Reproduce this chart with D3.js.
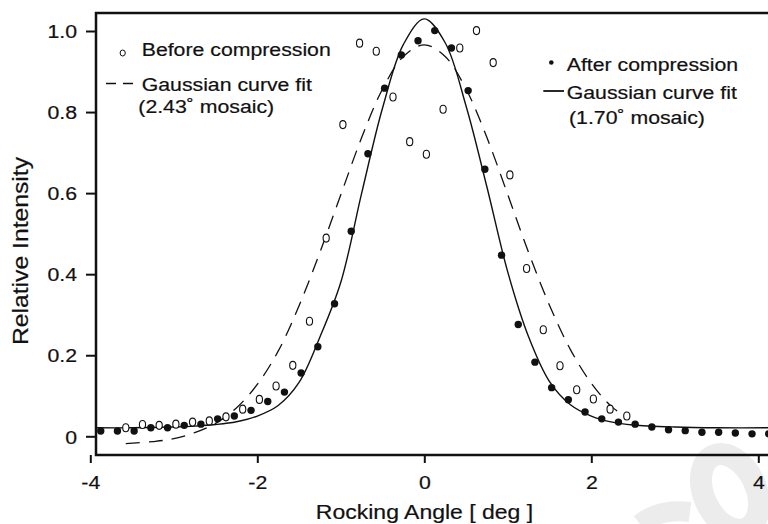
<!DOCTYPE html>
<html>
<head>
<meta charset="utf-8">
<script src="https://cdnjs.cloudflare.com/ajax/libs/d3/7.8.5/d3.min.js"></script>
<style>
  body { margin: 0; background: #fff; }
  svg { display: block; font-family: "Liberation Sans", Arial, Helvetica, sans-serif; }
</style>
</head>
<body>
<script>
// after compression (filled dots)
const afterX = [-3.875, -3.675, -3.475, -3.275, -3.075, -2.875, -2.675, -2.475, -2.275, -2.075,
  -1.875, -1.675, -1.475, -1.275, -1.075, -0.875, -0.675, -0.475, -0.275, -0.075,
  0.125, 0.325, 0.525, 0.725, 0.925, 1.125, 1.325, 1.525, 1.725, 1.925,
  2.125, 2.325, 2.525, 2.725, 2.925, 3.125, 3.325, 3.525, 3.725, 3.925, 4.125];
const afterY = [0.013, 0.013, 0.013, 0.021, 0.021, 0.027, 0.030, 0.043, 0.050, 0.064,
  0.086, 0.109, 0.156, 0.221, 0.327, 0.506, 0.697, 0.859, 0.941, 0.976,
  1.001, 0.958, 0.853, 0.659, 0.447, 0.276, 0.183, 0.120, 0.090, 0.060,
  0.043, 0.035, 0.030, 0.023, 0.016, 0.014, 0.010, 0.010, 0.008, 0.006, 0.006];

// before compression (open circles)
const beforeX = [-3.575, -3.375, -3.175, -2.975, -2.775, -2.575, -2.375, -2.175, -1.975, -1.775,
  -1.575, -1.375, -1.175, -0.975, -0.775, -0.575, -0.375, -0.175, 0.025, 0.225,
  0.425, 0.625, 0.825, 1.025, 1.225, 1.425, 1.625, 1.825, 2.025, 2.225, 2.425];
const beforeY = [0.021, 0.029, 0.027, 0.030, 0.035, 0.038, 0.048, 0.067, 0.091, 0.124,
  0.175, 0.284, 0.489, 0.769, 0.970, 0.950, 0.837, 0.727, 0.696, 0.807,
  0.958, 1.001, 0.922, 0.645, 0.414, 0.263, 0.174, 0.115, 0.092, 0.067, 0.050];

// gaussian fits
const fitAfterX = [-3.95, -3.5, -3.0, -2.75, -2.5, -2.25, -2.0, -1.75, -1.5, -1.25, -1.0, -0.75, -0.5, -0.25,
  0, 0.25, 0.5, 0.75, 1.0, 1.25, 1.5, 1.75, 2.0, 2.25, 2.5, 3.0, 3.5, 4.2];
const fitAfterY = [0.021, 0.021, 0.023, 0.025, 0.029, 0.036, 0.050, 0.076, 0.133, 0.245, 0.380, 0.600, 0.810, 0.967,
  1.030, 0.971, 0.815, 0.615, 0.405, 0.245, 0.135, 0.078, 0.050, 0.035, 0.028, 0.023, 0.021, 0.021];

const fitBeforeX = [-3.575, -3.25, -3.0, -2.75, -2.5, -2.25, -2.0, -1.75, -1.5, -1.25, -1.0, -0.75, -0.5, -0.25,
  0, 0.25, 0.5, 0.75, 1.0, 1.25, 1.5, 1.75, 2.0, 2.25, 2.45];
const fitBeforeY = [-0.018, -0.013, -0.006, 0.009, 0.032, 0.070, 0.128, 0.210, 0.322, 0.454, 0.596, 0.737, 0.857, 0.937,
  0.966, 0.937, 0.857, 0.737, 0.596, 0.453, 0.323, 0.214, 0.131, 0.072, 0.045];

const xTicks = [-4, -2, 0, 2, 4];
const xTickLabels = ['-4', '-2', '0', '2', '4'];
const yTicks = [0, 0.2, 0.4, 0.6, 0.8, 1.0];
const yTickLabels = ['0', '0.2', '0.4', '0.6', '0.8', '1.0'];

const width = 768, height = 524;
const frameLeft = 96, frameTop = 13, frameBottom = 455, frameRight = 768;
const ink = '#111';
const sx = 1.15; // glyphs in the figure are a bit wider than Arial

const svg = d3.select('body').append('svg')
  .attr('width', width)
  .attr('height', height);

// faint watermark in the corner
svg.append('ellipse')
  .attr('cx', 730).attr('cy', 492).attr('rx', 26).attr('ry', 40)
  .attr('transform', 'rotate(-25,730,492)')
  .attr('fill', 'none').attr('stroke', '#ececec').attr('stroke-width', 22);
svg.append('path')
  .attr('d', 'M640,524 Q660,508 690,512')
  .attr('fill', 'none').attr('stroke', '#ececec').attr('stroke-width', 20);

const x = d3.scaleLinear().domain([-4, 4]).range([90.3, 758.3]);
const y = d3.scaleLinear().domain([0, 1]).range([436.3, 31]);

function label(g, tx, ty, str, size, anchor) {
  return g.append('text')
    .attr('transform', `translate(${tx},${ty}) scale(${sx},1)`)
    .attr('font-size', size)
    .attr('text-anchor', anchor || 'start')
    .attr('fill', ink)
    .attr('stroke', ink)
    .attr('stroke-width', 0.2)
    .text(str);
}

// axes
const gx = svg.append('g')
  .attr('transform', `translate(0,${frameBottom})`)
  .call(d3.axisBottom(x).tickValues(xTicks).tickSize(8).tickFormat((d, i) => xTickLabels[i]));
gx.select('.domain').remove();
gx.selectAll('line').attr('stroke', ink).attr('stroke-width', 2);
gx.selectAll('text')
  .attr('y', 34).attr('dy', null)
  .attr('font-size', 18.5)
  .attr('fill', ink)
  .attr('stroke', ink).attr('stroke-width', 0.2)
  .attr('transform', `scale(${sx},1)`);
gx.attr('font-family', null);

const gy = svg.append('g')
  .attr('transform', `translate(${frameLeft},0)`)
  .call(d3.axisLeft(y).tickValues(yTicks).tickSize(10).tickFormat((d, i) => yTickLabels[i]));
gy.select('.domain').remove();
gy.selectAll('line').attr('stroke', ink).attr('stroke-width', 2);
gy.selectAll('text')
  .attr('x', -19 / sx).attr('dy', null).attr('y', 6.7)
  .attr('font-size', 18.5)
  .attr('fill', ink)
  .attr('stroke', ink).attr('stroke-width', 0.2)
  .attr('transform', `scale(${sx},1)`);
gy.attr('font-family', null);

// frame (left, bottom, top)
svg.append('path')
  .attr('d', `M${frameRight},${frameTop}H${frameLeft}V${frameBottom}H${frameRight}`)
  .attr('fill', 'none')
  .attr('stroke', ink)
  .attr('stroke-width', 2.5);

label(svg, 424.5, 519, 'Rocking Angle [ deg ]', 20, 'middle');
svg.append('text')
  .attr('transform', `translate(28,251) rotate(-90) scale(${sx},1)`)
  .attr('font-size', 21.5)
  .attr('text-anchor', 'middle')
  .attr('fill', ink)
  .attr('stroke', ink)
  .attr('stroke-width', 0.2)
  .text('Relative Intensity');

// curves
svg.append('clipPath').attr('id', 'plot')
  .append('rect')
  .attr('x', frameLeft).attr('y', frameTop)
  .attr('width', frameRight - frameLeft).attr('height', frameBottom - frameTop);

const line = d3.line()
  .x(d => x(d[0]))
  .y(d => y(d[1]))
  .curve(d3.curveCatmullRom.alpha(0.5));

const plot = svg.append('g').attr('clip-path', 'url(#plot)');

plot.append('path')
  .datum(d3.zip(fitBeforeX, fitBeforeY))
  .attr('d', line)
  .attr('fill', 'none')
  .attr('stroke', ink)
  .attr('stroke-width', 1.3)
  .attr('stroke-dasharray', '14,9');

plot.append('path')
  .datum(d3.zip(fitAfterX, fitAfterY))
  .attr('d', line)
  .attr('fill', 'none')
  .attr('stroke', ink)
  .attr('stroke-width', 1.4);

// points
plot.selectAll('ellipse.before')
  .data(d3.zip(beforeX, beforeY))
  .enter()
  .append('ellipse')
  .attr('class', 'before')
  .attr('cx', d => x(d[0]))
  .attr('cy', d => y(d[1]))
  .attr('rx', 3.1)
  .attr('ry', 4)
  .attr('fill', '#fff')
  .attr('stroke', ink)
  .attr('stroke-width', 1.1);

svg.selectAll('circle.after')
  .data(d3.zip(afterX, afterY))
  .enter()
  .append('circle')
  .attr('class', 'after')
  .attr('cx', d => x(d[0]))
  .attr('cy', d => y(d[1]))
  .attr('r', 3.7)
  .attr('fill', ink);

// legend, left block
const lg = svg.append('g');
lg.append('ellipse')
  .attr('cx', 122.7).attr('cy', 53).attr('rx', 2.6).attr('ry', 3)
  .attr('fill', '#fff').attr('stroke', ink).attr('stroke-width', 1);
label(lg, 141.7, 55.7, 'Before compression', 18.5);
lg.append('line')
  .attr('x1', 106).attr('x2', 134).attr('y1', 83.5).attr('y2', 83.5)
  .attr('stroke', ink).attr('stroke-width', 1.6).attr('stroke-dasharray', '10,7');
label(lg, 141.7, 90.7, 'Gaussian curve fit', 18.5);
label(lg, 138.3, 113.3, '(2.43\u02DA mosaic)', 18.5);

// legend, right block
lg.append('circle')
  .attr('cx', 551.3).attr('cy', 62.5).attr('r', 2.3)
  .attr('fill', ink);
label(lg, 566.7, 70.7, 'After compression', 18.5);
lg.append('line')
  .attr('x1', 543.3).attr('x2', 564).attr('y1', 91).attr('y2', 91)
  .attr('stroke', ink).attr('stroke-width', 1.8);
label(lg, 566.7, 99, 'Gaussian curve fit', 18.5);
label(lg, 569, 124, '(1.70\u02DA mosaic)', 18.5);
</script>
</body>
</html>
